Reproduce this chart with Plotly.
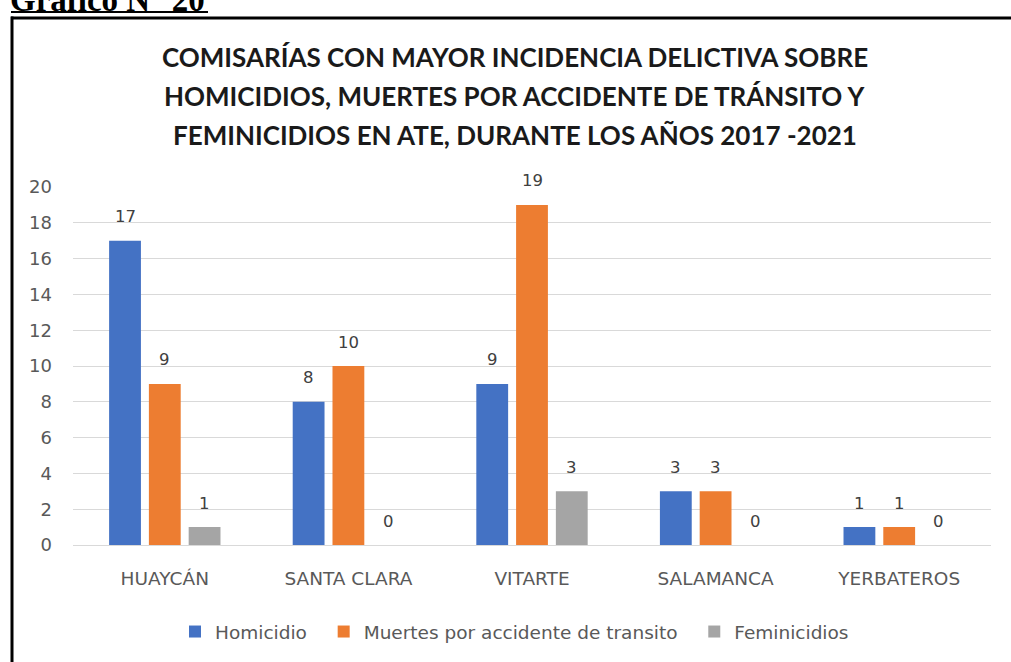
import plotly.graph_objects as go

categories = ["HUAYCÁN", "SANTA CLARA", "VITARTE", "SALAMANCA", "YERBATEROS"]
homicidio = [17, 8, 9, 3, 1]
muertes = [9, 10, 19, 3, 1]
feminicidios = [1, 0, 3, 0, 0]
series_names = ["Homicidio", "Muertes por accidente de transito", "Feminicidios"]
colors = ["#4472C4", "#ED7D31", "#A5A5A5"]
title_lines = [
    "COMISARÍAS CON MAYOR INCIDENCIA DELICTIVA SOBRE",
    "HOMICIDIOS, MUERTES POR ACCIDENTE DE TRÁNSITO Y",
    "FEMINICIDIOS EN ATE, DURANTE LOS AÑOS 2017 -2021",
]
y_ticks = [0, 2, 4, 6, 8, 10, 12, 14, 16, 18, 20]

W, H = 1011, 662
L, R, T, B = 73, 20, 187, 116
PW, PH = W - L - R, H - T - B
BARGAP, GROUPGAP = 0.35, 0.2


def px(x):
    return (x - L) / PW


def py(y):
    return (H - B - y) / PH


FONT = "DejaVu Sans"
series = [homicidio, muertes, feminicidios]
legend_pad = ["\u00a0\u00a0", "\u00a0\u00a0", ""]
fig = go.Figure()
for name, pad, vals, col in zip(series_names, legend_pad, series, colors):
    fig.add_trace(go.Bar(
        x=categories, y=vals, name=name + pad, marker=dict(color=col, line=dict(width=0)),
        hovertemplate=name + ": %{y}<extra></extra>",
    ))

annotations = []
# data labels, placed at each bar's value through the axes
slot = PW / len(categories) * (1 - BARGAP) / len(series)
for i, vals in enumerate(series):
    for cat, v in zip(categories, vals):
        annotations.append(dict(
            x=cat, y=v, xref="x", yref="y", text=str(v), showarrow=False,
            xanchor="center", yanchor="middle", xshift=(i - 1) * slot, yshift=24,
            font=dict(family=FONT, size=16.5, color="#404040"),
        ))

title_y = [57, 96, 135]
for line, ty in zip(title_lines, title_y):
    annotations.append(dict(
        text=f"<b>{line}</b>", x=px(515), y=py(ty), xref="paper", yref="paper",
        xanchor="center", yanchor="middle", showarrow=False,
        font=dict(family="Lato", size=26, color="#1a1a1a"),
    ))
annotations.append(dict(
    text="<b>Gráfico N° 20</b>", x=px(8), y=py(-0.5), xref="paper", yref="paper",
    xanchor="left", yanchor="middle", showarrow=False,
    font=dict(family="Liberation Serif", size=33, color="#000000"),
))

shapes = [
    dict(type="line", xref="paper", yref="paper", x0=px(11), x1=px(208), y0=py(11.5), y1=py(11.5),
         line=dict(color="black", width=2)),
    dict(type="line", xref="paper", yref="paper", x0=px(11), x1=px(1015), y0=py(17.5), y1=py(17.5),
         line=dict(color="black", width=3)),
    dict(type="line", xref="paper", yref="paper", x0=px(12), x1=px(12), y0=py(16), y1=py(670),
         line=dict(color="black", width=3)),
]

fig.update_layout(
    width=W, height=H,
    margin=dict(l=L, r=R, t=T, b=B),
    paper_bgcolor="white", plot_bgcolor="white",
    barmode="group", bargap=BARGAP, bargroupgap=GROUPGAP,
    font=dict(family=FONT, color="#595959"),
    showlegend=True,
    legend=dict(orientation="h", x=px(175), xanchor="left", y=py(632), yanchor="middle",
                font=dict(family=FONT, size=18.5, color="#595959"), itemwidth=30,
                traceorder="normal"),
    annotations=annotations,
    shapes=shapes,
    xaxis=dict(showgrid=False, showline=True, linecolor="#d9d9d9", linewidth=1,
               ticks="", tickfont=dict(family=FONT, size=18.5, color="#595959"),
               ticklabelstandoff=17),
    yaxis=dict(range=[0, 20], tickvals=y_ticks, showgrid=True, gridcolor="#d9d9d9", gridwidth=1,
               zeroline=False, showline=False, ticks="",
               tickfont=dict(family=FONT, size=18, color="#595959"), ticklabelstandoff=20),
)

fig.write_html("out.html", config={"displayModeBar": False},
               post_script="document.body.style.margin='0';")
